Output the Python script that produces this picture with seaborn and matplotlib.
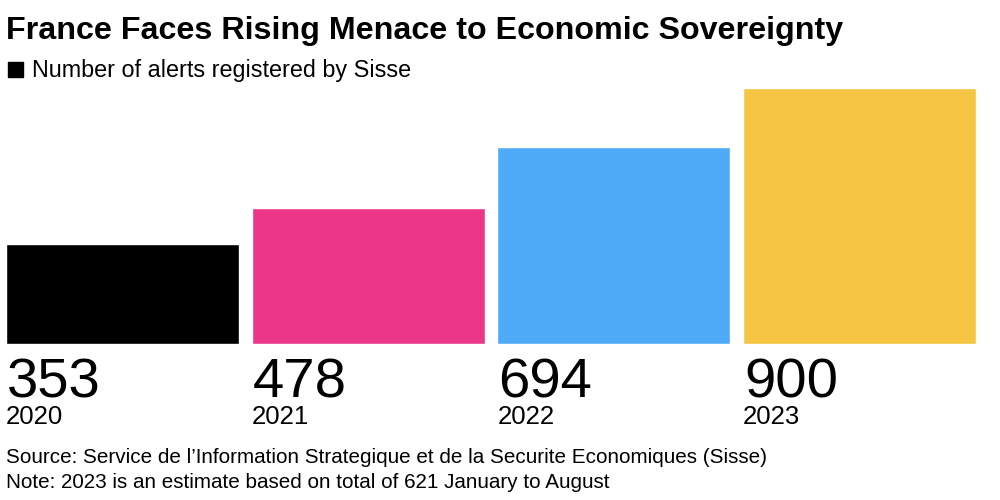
import pandas as pd
import matplotlib.pyplot as plt
import matplotlib.transforms as mtransforms
import seaborn as sns

# Datos
years = ["2020", "2021", "2022", "2023"]
alerts = [353, 478, 694, 900]
colors = ["#000000", "#EB368A", "#4FABF7", "#F6C544"]

df = pd.DataFrame({"year": years, "alerts": alerts})

sns.set_theme(style="white")
plt.rcParams["font.family"] = ["Liberation Sans", "DejaVu Sans"]
plt.rcParams["text.color"] = "black"

fig = plt.figure(figsize=(10, 5), dpi=100)
ax = fig.add_axes([0.006, 0.312, 0.970, 0.512])

width = 0.948
sns.barplot(data=df, x="year", y="alerts", hue="year", palette=colors,
            width=width, legend=False, saturation=1, ax=ax)
ax.set_xlim(-0.474, len(years) - 1 + 0.474)
ax.set_ylim(0, max(alerts))
ax.axis("off")

# Etiquetas bajo cada barra: valor grande y año
trans = mtransforms.blended_transform_factory(ax.transData, fig.transFigure)
for i, (yr, val) in enumerate(zip(years, alerts)):
    x0 = i - width / 2
    ax.text(x0 + 0.005, 1 - 398 / 500, f"{val}", transform=trans, fontsize=40.5,
            ha="left", va="baseline", color="black")
    ax.text(x0, 1 - 424 / 500, yr, transform=trans, fontsize=18.5,
            ha="left", va="baseline", color="black")

# Título y leyenda
fig.text(0.006, 1 - 39 / 500, "France Faces Rising Menace to Economic Sovereignty",
         fontsize=23.2, fontweight="bold", ha="left", va="baseline", color="black")
fig.patches.append(plt.Rectangle((0.008, 1 - 77 / 500), 0.015, 15 / 500,
                                 transform=fig.transFigure, color="black"))
fig.text(0.032, 1 - 77 / 500, "Number of alerts registered by Sisse",
         fontsize=16.8, ha="left", va="baseline", color="black")

# Fuente y nota
fig.text(0.006, 1 - 463 / 500,
         "Source: Service de l\u2019Information Strategique et de la Securite Economiques (Sisse)",
         fontsize=14.9, ha="left", va="baseline", color="black")
fig.text(0.006, 1 - 488 / 500,
         "Note: 2023 is an estimate based on total of 621 January to August",
         fontsize=14.9, ha="left", va="baseline", color="black")

fig.savefig("out.png", dpi=100, facecolor="white")
